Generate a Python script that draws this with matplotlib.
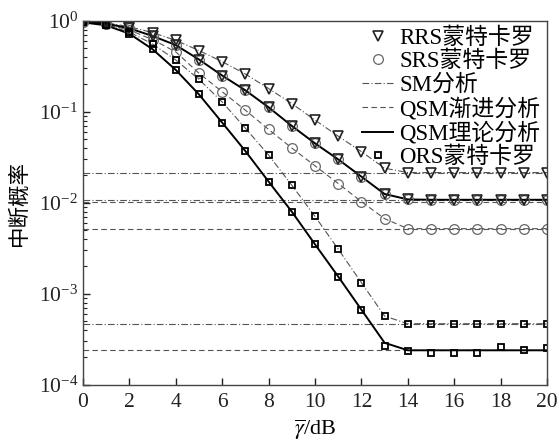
import matplotlib
matplotlib.use("Agg")
import matplotlib.pyplot as plt
import numpy as np
from matplotlib.lines import Line2D
from matplotlib.ticker import LogLocator, NullFormatter

plt.rcParams['font.family'] = ['Liberation Serif', 'Noto Sans CJK SC', 'DejaVu Sans']
plt.rcParams['mathtext.fontset'] = 'stix'

snr = list(range(0, 21))

rrs_sm = [0.98, 0.95, 0.86, 0.74, 0.61, 0.47, 0.355, 0.26, 0.18, 0.123, 0.081,
          0.054, 0.0365, 0.024, 0.0215, 0.0215, 0.0215, 0.0215, 0.0215, 0.0215, 0.0215]
rrs_qsm = [0.98, 0.93, 0.825, 0.68, 0.54, 0.375, 0.25, 0.172, 0.112, 0.070, 0.045,
           0.030, 0.0194, 0.0125, 0.0109, 0.0108, 0.0108, 0.0108, 0.0108, 0.0108, 0.0108]
srs_curve = [0.97, 0.91, 0.79, 0.62, 0.455, 0.265, 0.166, 0.104, 0.064, 0.040, 0.0255,
             0.0163, 0.0103, 0.0067, 0.0052, 0.0052, 0.0052, 0.0052, 0.0052, 0.0052, 0.0052]
ors_sm = [0.97, 0.90, 0.75, 0.555, 0.37, 0.227, 0.128, 0.066, 0.0335, 0.0156, 0.0071,
          0.0031, 0.00133, 0.00057, 0.00047, 0.00047, 0.00047, 0.00047, 0.00047, 0.00047, 0.00047]
ors_qsm = [0.96, 0.89, 0.72, 0.486, 0.288, 0.155, 0.076, 0.037, 0.0171, 0.0080, 0.0035,
           0.00155, 0.00067, 0.00029, 0.00024, 0.00024, 0.00024, 0.00024, 0.00024, 0.00024, 0.00024]
ors_qsm_mc = [0.96, 0.89, 0.72, 0.486, 0.288, 0.155, 0.076, 0.037, 0.0171, 0.0080, 0.0035,
              0.00155, 0.00067, 0.00027, 0.000237, 0.000224, 0.000224, 0.000222, 0.000258, 0.000240, 0.000252]

sm_floors = [0.0215, 0.0108, 0.00047]
qsm_floors = [0.0101, 0.0052, 0.00024]

xticks = list(range(0, 21, 2))

fig = plt.figure(figsize=(5.59, 4.46), dpi=100)
ax = fig.add_axes([0.1485, 0.137, 0.83, 0.8165])

grey = '#555555'
dashdot = (0, (6, 2, 1, 2))
dashed = (0, (5, 3))
for f in sm_floors:
    ax.plot([0, 20], [f, f], color=grey, lw=0.8, ls=dashdot)
for f in qsm_floors:
    ax.plot([0, 20], [f, f], color=grey, lw=0.8, ls=dashed)

ax.plot(snr, rrs_sm, color=grey, lw=0.8, ls=dashdot)
ax.plot(snr, ors_sm, color=grey, lw=0.8, ls=dashdot)
ax.plot(snr, srs_curve, color=grey, lw=0.8, ls=dashed)
ax.plot(snr, rrs_qsm, color='black', lw=1.4)
ax.plot(snr, ors_qsm, color='black', lw=1.4)

ckw = dict(ls='none', marker='o', ms=7, mfc='none', mec='#666666', mew=0.9)
ax.plot(snr, rrs_qsm, **ckw)
ax.plot(snr, srs_curve, **ckw)
tkw = dict(ls='none', marker='v', ms=7.5, mfc='none', mec='#222222', mew=1.2)
ax.plot(snr, rrs_sm, **tkw)
ax.plot(snr, rrs_qsm, **tkw)
skw = dict(ls='none', marker='s', ms=5, mfc='none', mec='black', mew=1.3)
ax.plot(snr, ors_sm, **skw)
ax.plot(snr, ors_qsm_mc, **skw)

ax.set_yscale('log')
ax.set_xlim(0, 20)
ax.set_ylim(1e-4, 1)
ax.set_xticks(xticks)
ax.yaxis.set_major_locator(LogLocator(base=10, numticks=10))
ax.yaxis.set_minor_locator(LogLocator(base=10, subs=np.arange(2, 10), numticks=10))
ax.yaxis.set_minor_formatter(NullFormatter())
ax.tick_params(axis='both', which='both', direction='in', top=False, right=False,
               labelsize=15.5, colors='#222222')
ax.tick_params(axis='both', which='major', length=5, width=1)
ax.tick_params(axis='y', which='minor', length=3, width=0.8)
ax.tick_params(axis='x', pad=6)
for s in ax.spines.values():
    s.set_color('#444444')
    s.set_linewidth(1.0)

ax.set_xlabel(r'$\overline{\gamma}$/dB', fontsize=16, labelpad=4)
ax.set_ylabel('中断概率', fontsize=15.5, family=['Noto Sans CJK SC'], labelpad=6)

handles = [
    Line2D([], [], **tkw),
    Line2D([], [], **ckw),
    Line2D([], [], color=grey, lw=0.8, ls=dashdot),
    Line2D([], [], color=grey, lw=0.8, ls=dashed),
    Line2D([], [], color='black', lw=1.4),
    Line2D([], [], **skw),
]
labels = ['RRS蒙特卡罗', 'SRS蒙特卡罗', 'SM分析', 'QSM渐进分析', 'QSM理论分析', 'ORS蒙特卡罗']
leg = ax.legend(handles, labels, loc='upper right', frameon=False, fontsize=16.5,
                handlelength=1.35, handletextpad=0.25, labelspacing=0.08,
                borderaxespad=0.1, borderpad=0.2)

fig.savefig('out.png', dpi=100)
